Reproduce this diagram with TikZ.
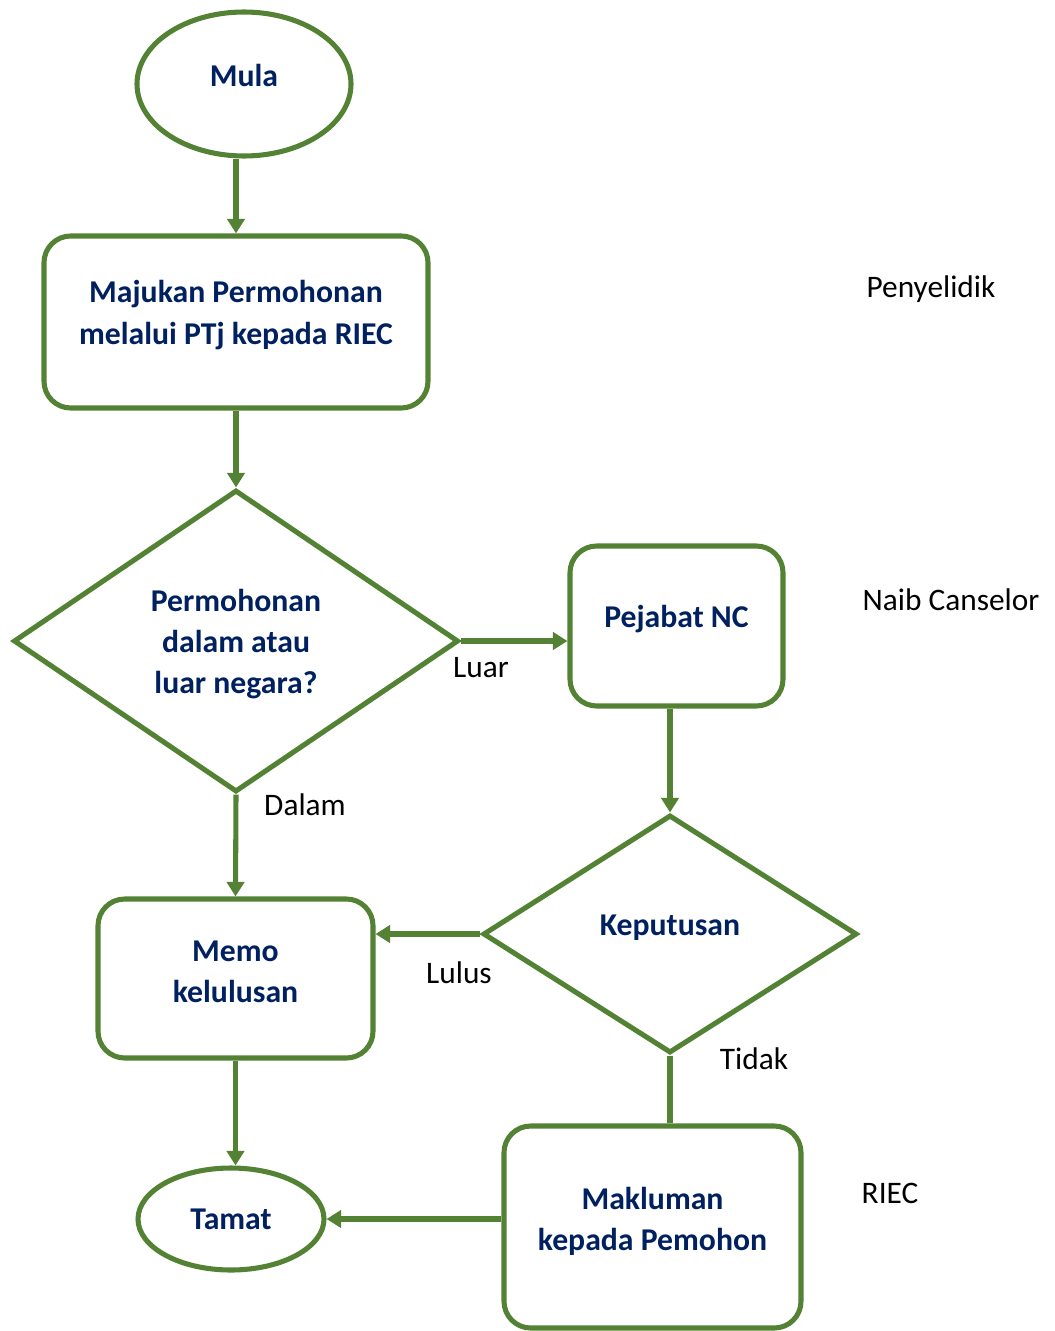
\documentclass[tikz,border=0pt]{standalone}
\usepackage{fontspec}
\setmainfont{Carlito}
\usetikzlibrary{shapes.geometric,arrows.meta,positioning}
\definecolor{flowgreen}{HTML}{548235}
\definecolor{flownavy}{HTML}{002060}
\newcommand\liftup[2][5.25pt]{\raisebox{#1}[\height][\depth]{#2}}

\begin{document}
\begin{tikzpicture}[x=0.75pt,y=-0.75pt,
  font=\fontsize{23.5}{31}\selectfont,
  term/.style={ellipse, draw=flowgreen, line width=3.8pt, text=flownavy, font=\fontsize{23.8}{31}\selectfont\bfseries, inner sep=0pt},
  proc/.style={rectangle, rounded corners=20pt, draw=flowgreen, line width=3.8pt, text=flownavy, align=center, font=\fontsize{23.8}{31}\selectfont\bfseries, inner sep=0pt},
  choice/.style={diamond, draw=flowgreen, line width=3.8pt, text=flownavy, align=center, font=\fontsize{23.8}{31}\selectfont\bfseries, inner sep=0pt},
  flow/.style={draw=flowgreen, line width=3.8pt, -{Triangle[length=11pt,width=13pt]}},
  link/.style={draw=flowgreen, line width=3.8pt}]
\useasboundingbox (0,0) rectangle (1054,1331);

% shapes
\node[term, minimum width=160.5pt, minimum height=108pt] (mula) at (244,84) {\liftup[6.5pt]{Mula}};
\node[proc, minimum width=288pt, minimum height=129pt] (hantar) at (236,322) {\liftup{Majukan Permohonan}\\\liftup{melalui PTj kepada RIEC}};
\node[choice, minimum width=333.75pt, minimum height=226.5pt] (lokasi) at (236,641) {\liftup[-2.25pt]{Permohonan}\\\liftup[-2.25pt]{dalam atau}\\\liftup[-2.25pt]{luar negara?}};
\node[proc, minimum width=159.75pt, minimum height=120pt] (nc) at (676.5,626) {\liftup{Pejabat NC}};
\node[choice, minimum width=280.5pt, minimum height=178.5pt] (putus) at (670,934) {\liftup[4.5pt]{Keputusan}};
\node[proc, minimum width=206.25pt, minimum height=119.25pt] (memo) at (235.5,978.5) {\liftup{Memo}\\\liftup{kelulusan}};
\node[term, minimum width=139.5pt, minimum height=76.5pt] (tamat) at (231,1219) {Tamat};
\node[proc, minimum width=222.75pt, minimum height=151.5pt] (maklum) at (652.5,1227) {\liftup[4pt]{Makluman}\\\liftup[4pt]{kepada Pemohon}};

% connectors
\draw[flow] (hantar.north |- mula.south) -- (hantar.north);
\draw[flow] (hantar.south) -- (lokasi.north);
\draw[flow] (lokasi.east) -- (nc.west |- lokasi.east);
\draw[flow] (putus.north |- nc.south) -- (putus.north);
\draw[flow] (putus.west) -- (memo.east |- putus.west);
\draw[flow] (lokasi.south) -- (memo.north);
\draw[flow] (memo.south) -- (memo.south |- tamat.north);
\draw[link] (putus.south) -- (putus.south |- maklum.north);
\draw[flow] (maklum.west |- tamat.east) -- (tamat.east);

% labels
\node (luar) at (481,668) {Luar};
\node (lulus) at (459,973) {Lulus};
\node (dalam) at (305,805) {Dalam};
\node (tidak) at (754,1059) {Tidak};
\node (penyelidik) at (931,289) {Penyelidik};
\node (naib) at (951,600) {Naib Canselor};
\node (riec) at (890,1193) {RIEC};
\end{tikzpicture}
\end{document}
